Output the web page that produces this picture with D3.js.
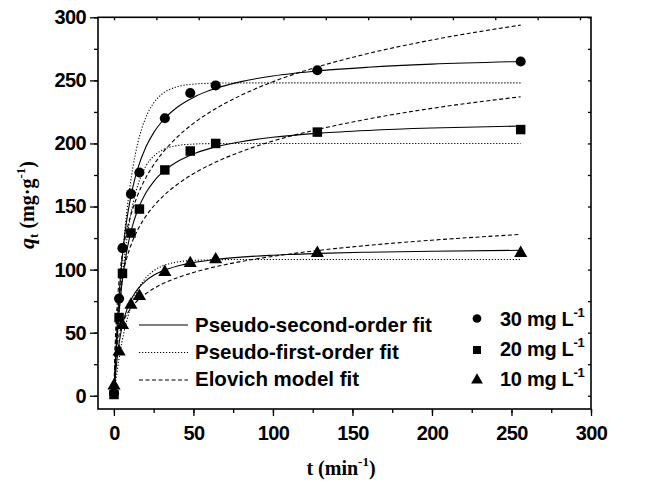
<!DOCTYPE html>
<html><head><meta charset="utf-8">
<script src="https://cdn.jsdelivr.net/npm/d3@7"></script>
<style>body{margin:0;background:#fff}svg{display:block}</style>
</head><body>
<script>
// ---- data ----
const tData = [0, 3, 5, 10, 15, 30, 45, 60, 120, 240];
const q30 = [2, 77, 117, 160, 177, 220, 240, 246, 258, 265];
const q20 = [1, 62, 97, 129, 148, 179, 194, 200, 209, 211];
const q10 = [8, 35, 56, 72, 79, 98, 105, 108, 113, 113];

const fitT = [0, 0.47, 0.94, 1.88, 2.81, 3.75, 4.69, 5.63, 7.5, 9.38, 11.25, 14.06, 18.75, 23.44, 28.13, 37.5, 46.88, 56.25, 75, 93.75, 121.9, 150, 187.5, 240];
const pso30 = [0, 16.6, 31.3, 56.2, 76.5, 93.2, 107.4, 119.5, 139.0, 154.1, 166.2, 180.3, 197.0, 208.6, 217.2, 228.9, 236.5, 241.9, 249.0, 253.5, 257.7, 260.4, 262.9, 265.0];
const pso20 = [0, 14.0, 26.2, 46.9, 63.6, 77.3, 88.8, 98.6, 114.4, 126.6, 136.2, 147.4, 160.7, 169.8, 176.6, 185.7, 191.7, 195.9, 201.4, 204.9, 208.2, 210.3, 212.2, 213.8];
const pso10 = [0, 9.2, 17.1, 29.9, 39.8, 47.7, 54.1, 59.5, 67.9, 74.2, 79.1, 84.7, 91.1, 95.5, 98.6, 102.8, 105.5, 107.4, 109.9, 111.4, 112.9, 113.8, 114.6, 115.3];
const pfo30 = [0, 13.3, 25.8, 49.0, 69.7, 88.3, 104.9, 119.8, 145.1, 165.4, 181.8, 200.4, 220.5, 232.2, 238.9, 245.0, 247.0, 247.7, 248, 248, 248, 248, 248, 248];
const pfo20 = [0, 11.6, 22.6, 42.7, 60.5, 76.2, 90.2, 102.6, 123.4, 139.8, 152.6, 166.9, 181.9, 190.0, 194.5, 198.4, 199.5, 199.9, 200, 200, 200, 200, 200, 200];
const pfo10 = [0, 5.3, 10.3, 19.6, 28.0, 35.6, 42.5, 48.7, 59.5, 68.3, 75.5, 83.9, 93.4, 99.1, 102.6, 106.0, 107.3, 107.7, 108, 108, 108, 108, 108, 108];
const elo30 = [0, 30.5, 49.0, 72.7, 88.5, 100.4, 109.9, 117.9, 130.6, 140.7, 149.0, 159.3, 172.7, 183.1, 191.7, 205.3, 215.9, 224.5, 238.2, 248.9, 261.4, 271.3, 282.0, 293.8];
const elo20 = [0, 27.5, 43.2, 62.8, 75.5, 85.1, 92.7, 99.0, 109.1, 117.0, 123.6, 131.7, 142.2, 150.4, 157.1, 167.7, 176.0, 182.8, 193.5, 201.9, 211.6, 219.4, 227.8, 237.0];
const elo10 = [0, 20.1, 29.5, 40.3, 47.1, 52.1, 56.0, 59.2, 64.3, 68.3, 71.6, 75.7, 80.9, 85.0, 88.4, 93.6, 97.7, 101.1, 106.4, 110.5, 115.4, 119.2, 123.3, 127.9];

const xTicks = [0, 50, 100, 150, 200, 250, 300];
const yTicks = [0, 50, 100, 150, 200, 250, 300];
const fitNames = ["Pseudo-second-order fit", "Pseudo-first-order fit", "Elovich model fit"];
const seriesNames = ["30 mg L", "20 mg L", "10 mg L"];

// ---- layout ----
const W = 656, H = 483;
const L = 98, R = 591, T = 17.3, B = 409;
const sans = "'Liberation Sans', Arial, sans-serif";
const serif = "'Liberation Serif', 'Times New Roman', serif";

const svg = d3.select("body").append("svg").attr("width", W).attr("height", H);

const xAxisScale = d3.scaleLinear().domain([-10, 300]).range([L, R]);
const xData = d3.scaleLinear().domain([-9.44, 281.5]).range([L, R]);
const y = d3.scaleLinear().domain([-10.5, 300]).range([B, T]);

const minorX = d3.range(0, 301, 25);
const minorY = d3.range(0, 301, 25);

const gB = svg.append("g").attr("transform", `translate(0,${B})`)
  .call(d3.axisBottom(xAxisScale).tickValues(minorX).tickSize(4).tickFormat(""));
const gB2 = svg.append("g").attr("transform", `translate(0,${B})`)
  .call(d3.axisBottom(xAxisScale).tickValues(xTicks).tickSize(7).tickPadding(10).tickFormat(d3.format("d")));
const gL = svg.append("g").attr("transform", `translate(${L},0)`)
  .call(d3.axisLeft(y).tickValues(minorY).tickSize(4).tickFormat(""));
const gL2 = svg.append("g").attr("transform", `translate(${L},0)`)
  .call(d3.axisLeft(y).tickValues(yTicks).tickSize(8).tickPadding(4).tickFormat(d3.format("d")));
const gT = svg.append("g").attr("transform", `translate(0,${T})`)
  .call(d3.axisTop(xData).tickValues(d3.range(0, 281, 25)).tickSize(-3).tickFormat(""));
const gR = svg.append("g").attr("transform", `translate(${R},0)`)
  .call(d3.axisRight(y).tickValues(minorY).tickSize(-3).tickFormat(""));

[gB, gB2, gL, gL2, gT, gR].forEach(g => {
  g.select(".domain").remove();
  g.selectAll(".tick line").attr("stroke", "#000").attr("stroke-width", 1.3);
  g.selectAll(".tick text").attr("font-family", sans).attr("font-weight", "bold")
    .attr("font-size", 20).attr("fill", "#000").attr("letter-spacing", "-0.6");
});
svg.append("rect").attr("x", L).attr("y", T).attr("width", R - L).attr("height", B - T)
  .attr("fill", "none").attr("stroke", "#000").attr("stroke-width", 1.6);

// fit lines
const line = d3.line().x(d => xData(d[0])).y(d => y(d[1])).curve(d3.curveMonotoneX);
const styles = [
  {dash: null, sets: [pso30, pso20, pso10]},
  {dash: "1.2,1.8", sets: [pfo30, pfo20, pfo10]},
  {dash: "4,2.5", sets: [elo30, elo20, elo10]}
];
styles.forEach(s => {
  s.sets.forEach(arr => {
    svg.append("path").datum(fitT.map((t, i) => [t, arr[i]]))
      .attr("d", line).attr("fill", "none").attr("stroke", "#000")
      .attr("stroke-width", 1.1).attr("stroke-dasharray", s.dash);
  });
});

// markers
const symbols = [d3.symbolCircle, d3.symbolSquare, d3.symbolTriangle];
const sizes = [80, 90, 75];
[q30, q20, q10].forEach((arr, k) => {
  svg.append("g").selectAll("path").data(tData.map((t, i) => [t, arr[i]])).join("path")
    .attr("d", d3.symbol().type(symbols[k]).size(sizes[k]))
    .attr("transform", d => `translate(${xData(d[0])},${y(d[1])})`)
    .attr("fill", "#000");
});

// legend (fits)
const legRowsLine = [325, 352.5, 380];
const legRowsText = [331.5, 358.5, 386];
fitNames.forEach((name, i) => {
  svg.append("line").attr("x1", 139).attr("x2", 188).attr("y1", legRowsLine[i]).attr("y2", legRowsLine[i])
    .attr("stroke", "#000").attr("stroke-width", 1.1).attr("stroke-dasharray", styles[i].dash);
  svg.append("text").attr("x", 195).attr("y", legRowsText[i]).text(name)
    .attr("font-family", sans).attr("font-weight", "bold").attr("font-size", 20.5).attr("fill", "#000");
});

// legend (series)
const legSymY = [318.5, 350, 380];
const legTextY = [326, 355.5, 386];
seriesNames.forEach((name, i) => {
  svg.append("path").attr("d", d3.symbol().type(symbols[i]).size([60, 64, 60][i]))
    .attr("transform", `translate(477,${legSymY[i]})`).attr("fill", "#000");
  const t = svg.append("text").attr("x", 500).attr("y", legTextY[i])
    .attr("font-family", sans).attr("font-weight", "bold").attr("font-size", 20)
    .attr("letter-spacing", "-0.3").attr("fill", "#000");
  t.append("tspan").text(name);
  t.append("tspan").attr("dy", -9).attr("font-size", 13).text("-1");
});

// axis titles
const xt = svg.append("text").attr("x", 341).attr("y", 475).attr("text-anchor", "middle")
  .attr("font-family", serif).attr("font-weight", "bold").attr("font-size", 20).attr("fill", "#000");
xt.append("tspan").text("t (min");
xt.append("tspan").attr("dy", -9).attr("font-size", 13).text("-1");
xt.append("tspan").attr("dy", 9).text(")");

const yt = svg.append("text").attr("transform", "translate(34,205) rotate(-90)").attr("text-anchor", "middle")
  .attr("font-family", serif).attr("font-weight", "bold").attr("font-size", 20).attr("fill", "#000");
yt.append("tspan").attr("font-style", "italic").attr("font-size", 22).text("q");
yt.append("tspan").attr("dy", 4).attr("font-size", 13).text("t");
yt.append("tspan").attr("dy", -4).text(" (mg·g");
yt.append("tspan").attr("dy", -9).attr("font-size", 13).text("-1");
yt.append("tspan").attr("dy", 9).text(")");
</script>
</body></html>
